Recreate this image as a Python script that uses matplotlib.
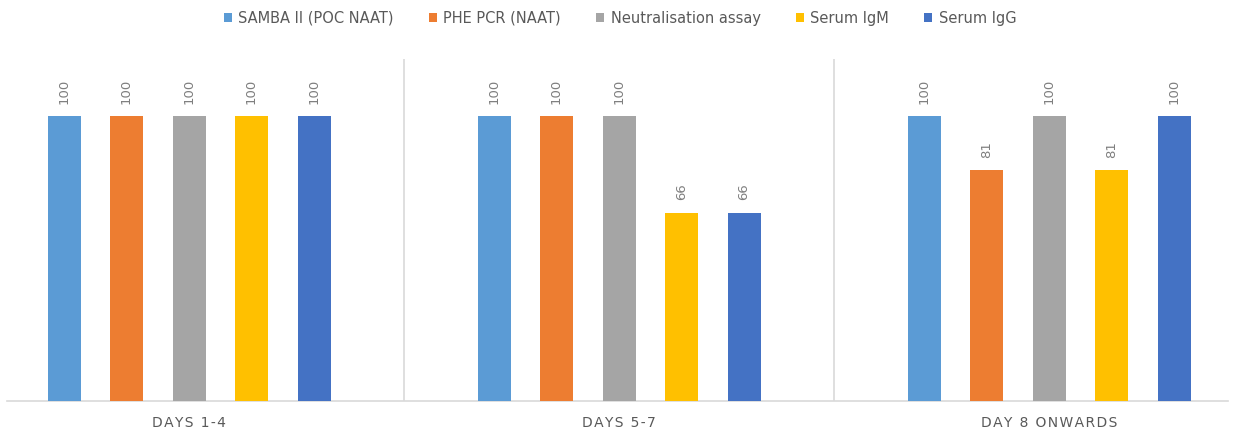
import matplotlib
matplotlib.use('Agg')
import matplotlib.pyplot as plt
import numpy as np

categories = ['DAYS 1-4', 'DAYS 5-7', 'DAY 8 ONWARDS']
series = ['SAMBA II (POC NAAT)', 'PHE PCR (NAAT)', 'Neutralisation assay',
          'Serum IgM', 'Serum IgG']
values = [
    [100, 100, 100],   # SAMBA II
    [100, 100, 81],    # PHE PCR
    [100, 100, 100],   # Neutralisation
    [100, 66, 81],     # IgM
    [100, 66, 100],    # IgG
]
colors = ['#5B9BD5', '#ED7D31', '#A5A5A5', '#FFC000', '#4472C4']

W, H = 1235, 437
fig = plt.figure(figsize=(W / 100, H / 100), dpi=100)
# axes from pixel 7 to 1228, y from 59 to 401 (top-down)
ax = fig.add_axes([7 / W, (H - 401) / H, (1228 - 7) / W, (401 - 59) / H])

x = np.arange(len(categories))
step = 62.5 / 430
width = 33 / 430
for i, (name, vals, c) in enumerate(zip(series, values, colors)):
    xs = x + (i - 2) * step
    bars = ax.bar(xs, vals, width=width, color=c, label=name, zorder=3)
    for b, v in zip(bars, vals):
        ax.annotate(str(v), (b.get_x() + b.get_width() / 2, v),
                    xytext=(0, 9), textcoords='offset points',
                    ha='center', va='bottom', rotation=90,
                    fontsize=9.5, color='#7F7F7F')

ax.set_xlim((7 - 189) / 430, (1228 - 189) / 430)
ax.set_ylim(0, 120)
for d in [0.5, 1.5]:
    ax.axvline(d, color='#D9D9D9', lw=1.2, zorder=1)

ax.set_yticks([])
ax.set_xticks(x)
hs = '\u200a'
ax.set_xticklabels([hs.join(c) for c in categories], fontsize=10,
                   color='#595959')
ax.tick_params(axis='x', length=0, pad=11)
for s in ['top', 'right', 'left']:
    ax.spines[s].set_visible(False)
ax.spines['bottom'].set_color('#D9D9D9')
ax.spines['bottom'].set_linewidth(1.2)

leg = fig.legend(loc='center', bbox_to_anchor=(620 / W, 1 - 18 / H), ncol=5,
                 frameon=False, fontsize=10.5, handlelength=0.55,
                 handleheight=0.55, handletextpad=0.45, columnspacing=2.4)
for t in leg.get_texts():
    t.set_color('#595959')

fig.savefig('out.png', dpi=100)
